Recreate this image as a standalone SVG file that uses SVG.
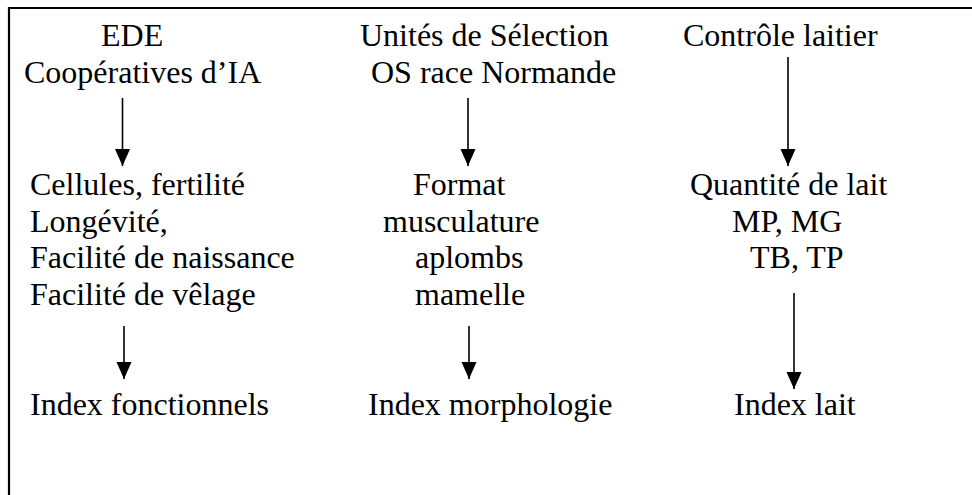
<svg xmlns="http://www.w3.org/2000/svg" width="972" height="495" viewBox="0 0 972 495">
<defs>
<style>
.t text{font-family:'Liberation Serif','Times New Roman','DejaVu Serif',serif;font-size:32px;fill:#000}
.conn line{stroke:#000;stroke-width:1.6}
.frame{stroke:#000;stroke-width:2.2;fill:none}
</style>
<marker id="ah" markerUnits="userSpaceOnUse" markerWidth="18" markerHeight="16" refX="17" refY="7.5" orient="auto" viewBox="0 0 18 16" overflow="visible">
<path d="M0,0 L17,7.5 L0,15 Z" fill="#000"/>
</marker>
</defs>
<rect width="972" height="495" fill="#fff"/>
<path class="frame" d="M9,495 L9,8 L972,8"/>
<g class="t" font-family="Liberation Serif, Times New Roman, serif" font-size="32">
<g id="ede"><text x="101" y="46">EDE</text><text x="24" y="82.5">Coopératives d’IA</text></g>
<g id="unites"><text x="360" y="46">Unités de Sélection</text><text x="371" y="82.5">OS race Normande</text></g>
<g id="controle"><text x="683" y="46">Contrôle laitier</text></g>
<g id="fonctionnels"><text x="30" y="195">Cellules, fertilité</text><text x="30" y="231.5">Longévité,</text><text x="30" y="268">Facilité de naissance</text><text x="30" y="304.5">Facilité de vêlage</text></g>
<g id="morpho"><text x="413" y="195">Format</text><text x="383" y="231.5">musculature</text><text x="415" y="268">aplombs</text><text x="415" y="304.5">mamelle</text></g>
<g id="lait"><text x="690" y="195">Quantité de lait</text><text x="732" y="231.5">MP, MG</text><text x="750" y="268">TB, TP</text></g>
<g id="idx-fonct"><text x="30" y="415">Index fonctionnels</text></g>
<g id="idx-morpho"><text x="368" y="415">Index morphologie</text></g>
<g id="idx-lait"><text x="734" y="415">Index lait</text></g>
</g>
<g class="conn">
<line x1="122.5" y1="98" x2="122.5" y2="166" marker-end="url(#ah)"/>
<line x1="468" y1="98" x2="468" y2="166" marker-end="url(#ah)"/>
<line x1="788" y1="57" x2="788" y2="166" marker-end="url(#ah)"/>
<line x1="124" y1="326" x2="124" y2="379" marker-end="url(#ah)"/>
<line x1="469" y1="326" x2="469" y2="379" marker-end="url(#ah)"/>
<line x1="794" y1="293" x2="794" y2="389" marker-end="url(#ah)"/>
</g>
</svg>
